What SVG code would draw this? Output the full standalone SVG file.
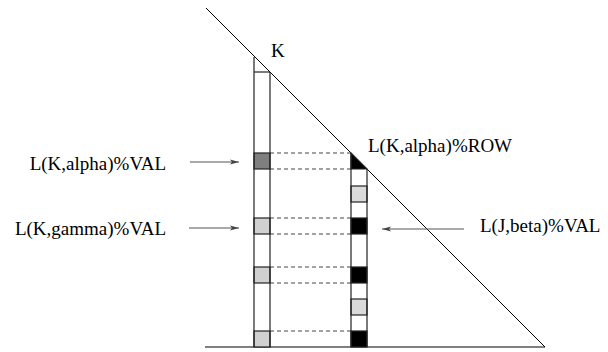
<svg xmlns="http://www.w3.org/2000/svg" width="608" height="352" viewBox="0 0 608 352">
<defs>
<style>
.ln{stroke:#000;stroke-width:1;fill:none}
.col{stroke:#222;stroke-width:1.2;fill:none}
.cell{stroke:#222;stroke-width:1.2}
.dk{fill:#7f7f7f}
.lg{fill:#d0d0d0}
.lg2{fill:#dadada}
.bk{fill:#000}
.dash{stroke:#444;stroke-width:1;stroke-dasharray:4,3;fill:none}
.arr{stroke:#555;stroke-width:1.2;fill:none;marker-end:url(#ah)}
text{font-family:"Liberation Serif","Times New Roman",serif;font-size:19px;fill:#000}
</style>
<marker id="ah" markerWidth="10" markerHeight="6" refX="9" refY="3" orient="auto" markerUnits="userSpaceOnUse">
<path d="M0,0.5 L9,3 L0,5.5 L2,3 Z" fill="#444"/>
</marker>
</defs>
<rect width="608" height="352" fill="#fff"/>
<g id="frame">
<line class="ln" x1="206" y1="8" x2="545" y2="347"/>
<line class="ln" x1="205" y1="347" x2="545" y2="347"/>
</g>
<g id="connectors">
<line class="dash" x1="270" y1="153" x2="351" y2="153"/>
<line class="dash" x1="270" y1="169" x2="351" y2="169"/>
<line class="dash" x1="270" y1="218" x2="351" y2="218"/>
<line class="dash" x1="270" y1="234" x2="351" y2="234"/>
<line class="dash" x1="270" y1="267" x2="351" y2="267"/>
<line class="dash" x1="270" y1="283" x2="351" y2="283"/>
<line class="dash" x1="270" y1="331" x2="351" y2="331"/>
<line class="arr" x1="190" y1="162" x2="239" y2="162"/>
<line class="arr" x1="189" y1="228" x2="239" y2="228"/>
<line class="arr" x1="464" y1="229" x2="382" y2="229"/>
</g>
<g id="columnK">
<rect class="cell dk" x="254" y="153" width="16" height="16"/>
<rect class="cell lg" x="254" y="218" width="16" height="16"/>
<rect class="cell lg" x="254" y="267" width="16" height="16"/>
<rect class="cell lg" x="254" y="331" width="16" height="16"/>
<line class="col" x1="254" y1="57" x2="254" y2="347"/>
<line class="col" x1="270" y1="72" x2="270" y2="347"/>
<line class="col" x1="254" y1="72" x2="270" y2="72"/>
</g>
<g id="columnJ">
<path class="cell bk" d="M351,153 L367,169 L351,169 Z"/>
<rect class="cell lg2" x="351" y="186" width="16" height="16"/>
<rect class="cell bk" x="351" y="218" width="16" height="16"/>
<rect class="cell bk" x="351" y="267" width="16" height="16"/>
<rect class="cell lg2" x="351" y="299" width="16" height="16"/>
<rect class="cell bk" x="351" y="331" width="16" height="16"/>
<line class="col" x1="351" y1="153" x2="351" y2="347"/>
<line class="col" x1="367" y1="169" x2="367" y2="347"/>
</g>
<g id="label-K"><text x="271" y="57">K</text></g>
<g id="label-alpha-val"><text x="166" y="170" text-anchor="end">L(K,alpha)%VAL</text></g>
<g id="label-gamma-val"><text x="166" y="235" text-anchor="end">L(K,gamma)%VAL</text></g>
<g id="label-alpha-row"><text x="368" y="152">L(K,alpha)%ROW</text></g>
<g id="label-beta-val"><text x="480" y="232">L(J,beta)%VAL</text></g>
</svg>
